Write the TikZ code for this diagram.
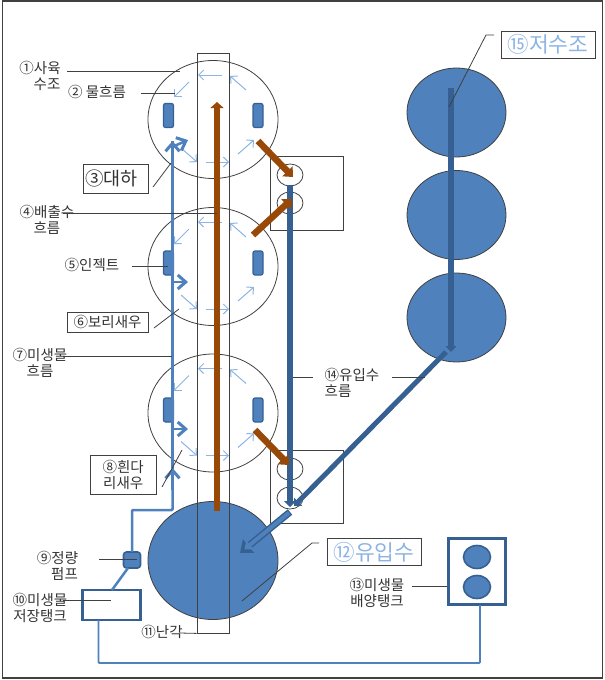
\documentclass[tikz,border=0pt]{standalone}
\usepackage{fontspec}
\setmainfont{Noto Sans CJK KR}
\usetikzlibrary{arrows.meta,shapes.geometric}
\definecolor{tankfill}{HTML}{4F81BD}
\definecolor{tankdark}{HTML}{366092}
\definecolor{flowlight}{HTML}{8DB4E2}
\definecolor{wastebrown}{HTML}{984807}
\definecolor{inkgray}{HTML}{404040}
\tikzset{
  tank/.style={draw=inkgray, ellipse, inner sep=0pt, minimum width=130pt, minimum height=118pt, line width=0.8pt},
  pool/.style={tank, fill=tankfill},
  reservoir/.style={pool, minimum width=99pt, minimum height=89pt},
  valve/.style={draw=inkgray, ellipse, inner sep=0pt, minimum width=26pt, minimum height=22pt, line width=0.8pt},
  seed/.style={draw=tankdark, fill=tankfill, ellipse, inner sep=0pt, minimum width=27pt, minimum height=23pt, line width=1.6pt},
  bar/.style={draw=tankdark, fill=tankfill, rounded corners=2pt, inner sep=0pt, minimum width=10pt, minimum height=24pt, line width=1.2pt},
  panel/.style={draw=inkgray, inner sep=0pt, line width=0.8pt},
  lbl/.style={font=\fontsize{14.5}{16}\selectfont, text=black!80, inner sep=0pt, align=center},
  lblbox/.style={lbl, draw=inkgray, line width=0.8pt, minimum height=20pt},
  bigbox/.style={lblbox, font=\fontsize{21.5}{22}\selectfont, text=flowlight, minimum width=94pt, minimum height=27pt},
  leader/.style={draw=inkgray, line width=0.8pt},
  smallflow/.style={draw=flowlight, line width=1pt, -{Straight Barb[length=5pt,width=10pt]}},
  microbe/.style={draw=tankfill, line width=2.5pt, rounded corners=1pt},
  feedline/.style={microbe, line width=1.8pt},
  chevron/.style={microbe, -{Straight Barb[length=8pt,width=14pt,line width=3pt]}},
  waste/.style={draw=wastebrown, line width=6.5pt},
  wastetip/.style={waste, -{Triangle[length=8pt,width=14pt]}},
  inflow/.style={draw=tankdark, line width=6pt},
}
\begin{document}
\begin{tikzpicture}[x=1pt, y=-1pt]
  \useasboundingbox (0,0) rectangle (605,680);
  \node[draw=inkgray, line width=1.3pt, minimum width=600pt, minimum height=677pt, inner sep=0pt] (frame) at (302.5,339.5) {};

  % pool, column and rearing tanks
  \node[pool] (inpool) at (213,560.5) {};
  \node[panel, minimum width=32.5pt, minimum height=580pt] (column) at (213.2,343) {};
  \node[tank] (tank1) at (213,119.5) {};
  \node[tank] (tank2) at (213,266.5) {};
  \node[tank] (tank3) at (213,413) {};

  % small water flow arrows, same in each tank
  \foreach \t in {tank1,tank2,tank3} {
    \foreach \ax/\ay/\bx/\by in {9/-44.5/-15/-44.5, 33/-29.5/17/-43.5, -24/-37.5/-39/-22.5,
                                 -32/28.5/-16/42.5, -7/42.5/16/42.5, 25/34.5/41/20.5} {
      \draw[smallflow] ([shift={(\ax,\ay)}]\t.center) -- ([shift={(\bx,\by)}]\t.center);
    }
  }

  % injector bars
  \node[bar] (bar1l) at (168.5,115.5) {};
  \node[bar] (bar1r) at (258,115.5) {};
  \node[bar] (bar2l) at (168.5,263) {};
  \node[bar] (bar2r) at (258,263) {};
  \node[bar] (bar3l) at (168.5,410) {};
  \node[bar] (bar3r) at (258,410) {};

  % drain boxes
  \node[panel, minimum width=73pt, minimum height=74pt] (drainup) at (306.5,193) {};
  \node[valve] (valve1) at (290,175) {};
  \node[valve] (valve2) at (290,203) {};
  \node[panel, minimum width=73pt, minimum height=73pt] (draindown) at (306.5,486.5) {};
  \node[valve] (valve3) at (290,469) {};
  \node[valve] (valve4) at (290,498) {};

  % reservoir
  \node[reservoir] (res1) at (456.5,112.5) {};
  \node[reservoir] (res2) at (456.5,215) {};
  \node[reservoir] (res3) at (456.5,317.5) {};

  % culture side
  \node[draw=tankdark, line width=2.2pt, fill=white, minimum width=58pt, minimum height=30pt, inner sep=0pt] (store) at (111.5,605) {};
  \node[draw=tankdark, fill=tankfill, line width=1.6pt, rounded corners=3pt, minimum width=17pt, minimum height=16pt, inner sep=0pt] (pump) at (132,560) {};
  \node[draw=tankdark, line width=2.5pt, minimum width=57pt, minimum height=66pt, inner sep=0pt] (culture) at (477,571.5) {};
  \node[seed] (seed1) at (477,557) {};
  \node[seed] (seed2) at (477,587) {};

  % microbe line
  \coordinate (pumpout) at (132,552);
  \coordinate (bendlow) at (132,510);
  \coordinate (bendup) at (172.5,510);
  \coordinate (midtip) at (172.5,468);
  \coordinate (toptip) at (172.5,141);
  \coordinate (storeout) at (112,590);
  \coordinate (pumpin) at (128,568);
  \draw[microbe] (storeout) -- (pumpin);
  \draw[microbe] (pumpout) -- (bendlow) -- (bendup) -- (midtip);
  \draw[microbe] (midtip) -- (toptip);
  \draw[chevron] (172.5,490) -- (midtip);
  \draw[chevron] (172.5,170) -- (toptip);
  \coordinate (inj1a) at (172,147);
  \coordinate (inj1b) at (188,140);
  \coordinate (inj2a) at (172,282);
  \coordinate (inj2b) at (188,282);
  \coordinate (inj3a) at (172,429);
  \coordinate (inj3b) at (188,429);
  \draw[chevron] (inj1a) -- (inj1b);
  \draw[chevron] (inj2a) -- (inj2b);
  \draw[chevron] (inj3a) -- (inj3b);
  \coordinate (feedout) at (98.5,620);
  \coordinate (feeddown) at (98.5,663);
  \coordinate (feedright) at (480,663);
  \coordinate (feedup) at (480,605);
  \draw[feedline] (feedout) -- (feeddown) -- (feedright) -- (feedup);

  % inflow lines
  \coordinate (restop) at (451,88);
  \coordinate (resend) at (451,352);
  \draw[inflow, -{Triangle[length=6pt,width=11pt]}] (restop) -- (resend);
  \coordinate (downtop) at (290,185);
  \coordinate (downend) at (290,507);
  \draw[inflow, line width=6.5pt, -{Triangle[length=6pt,width=12pt]}] (downtop) -- (downend);
  \coordinate (diagtop) at (446,352);
  \coordinate (diagend) at (294,506);
  \draw[inflow, line width=5pt, -{Triangle[length=6pt,width=11pt]}] (diagtop) -- (diagend);
  \coordinate (pourtop) at (290,512);
  \coordinate (pourend) at (240,553);
  \draw[inflow, line width=7pt, -{Triangle[length=11pt,width=17pt]}] (pourtop) -- (pourend);
  \draw[draw=tankfill, line width=4pt, -{Triangle[length=7pt,width=11pt]}] (289,512.8) -- (244.5,549.3);

  % waste lines
  \coordinate (waste0a) at (217,511);
  \coordinate (waste0b) at (217,102);
  \draw[waste, -{Triangle[length=6pt,width=13pt]}] (waste0a) -- (waste0b);
  \coordinate (waste1a) at (258,141);
  \coordinate (waste1b) at (293,177);
  \draw[wastetip] (waste1a) -- (waste1b);
  \coordinate (waste2a) at (253,235);
  \coordinate (waste2b) at (292,199);
  \draw[wastetip] (waste2a) -- (waste2b);
  \coordinate (waste3a) at (255,430);
  \coordinate (waste3b) at (289,465);
  \draw[wastetip] (waste3a) -- (waste3b);

  % labels
  \node[lbl] (lab1) at (40,76) {①사육\\\hspace*{14pt}수조};
  \node[lbl] (lab2) at (97,92) {② 물흐름};
  \node[lblbox, font=\fontsize{18.5}{20}\selectfont, minimum width=65pt, minimum height=29pt] (lab3) at (115.5,178.5) {\hspace*{-8pt}③대하};
  \node[lbl] (lab4) at (47,220) {④배출수\\흐름};
  \node[lbl] (lab5) at (92,265) {⑤인젝트};
  \node[lblbox, minimum width=81pt] (lab6) at (107.5,322) {⑥보리새우};
  \node[lbl] (lab7) at (40,363) {⑦미생물\\흐름};
  \node[lblbox, minimum width=66.5pt, minimum height=39pt] (lab8) at (123.2,474.5) {⑧흰다\\리새우};
  \node[lbl] (lab9) at (57.5,566) {⑨정량\\\hspace*{14pt}펌프};
  \node[lbl] (lab10) at (40,607.5) {⑩미생물\\저장탱크};
  \node[lbl] (lab11) at (162,632) {⑪난각};
  \node[bigbox] (lab12) at (374,552) {⑫유입수};
  \node[lbl] (lab13) at (377,592.5) {⑬미생물\\배양탱크};
  \node[lbl, align=left] (lab14) at (352,383) {⑭유입수\\흐름};
  \node[bigbox] (lab15) at (548,44.5) {⑮저수조};

  % leaders
  \coordinate (lead1a) at (67,71);
  \coordinate (lead1b) at (180,71);
  \draw[leader] (lead1a) -- (lead1b);
  \coordinate (lead2a) at (141,93);
  \coordinate (lead2b) at (175,93);
  \draw[leader] (lead2a) -- (lead2b);
  \coordinate (lead3a) at (153,187);
  \coordinate (lead3b) at (171,163);
  \draw[leader] (lead3a) -- (lead3b);
  \coordinate (lead4a) at (63,213);
  \coordinate (lead4b) at (217,213);
  \draw[leader] (lead4a) -- (lead4b);
  \coordinate (lead5a) at (132,266);
  \coordinate (lead5b) at (168,266);
  \draw[leader] (lead5a) -- (lead5b);
  \coordinate (lead6a) at (154,328);
  \coordinate (lead6b) at (179,309);
  \draw[leader] (lead6a) -- (lead6b);
  \coordinate (lead7a) at (63,356);
  \coordinate (lead7b) at (172,356);
  \draw[leader] (lead7a) -- (lead7b);
  \coordinate (lead8a) at (162,487);
  \coordinate (lead8b) at (182,450);
  \draw[leader] (lead8a) -- (lead8b);
  \coordinate (lead9a) at (99,559);
  \coordinate (lead9b) at (137,559);
  \draw[leader] (lead9a) -- (lead9b);
  \coordinate (lead10a) at (63,600);
  \coordinate (lead10b) at (111,600);
  \draw[leader] (lead10a) -- (lead10b);
  \coordinate (lead11a) at (180,633);
  \draw[leader] (lead11a) -- (column.south west);
  \coordinate (lead12a) at (242,601);
  \coordinate (lead12b) at (312,543);
  \coordinate (lead12c) at (319,543);
  \draw[leader] (lead12a) -- (lead12b) -- (lead12c);
  \coordinate (lead13a) at (412,586);
  \draw[leader] (lead13a) -- (culture.west |- lead13a);
  \coordinate (lead14a) at (293,377);
  \coordinate (lead14b) at (313,377);
  \coordinate (lead14c) at (392,377);
  \coordinate (lead14d) at (425,377);
  \draw[leader] (lead14a) -- (lead14b);
  \draw[leader] (lead14c) -- (lead14d);
  \coordinate (lead15a) at (449,107);
  \coordinate (lead15b) at (486,35);
  \coordinate (lead15c) at (494,35);
  \draw[leader] (lead15a) -- (lead15b) -- (lead15c);
\end{tikzpicture}
\end{document}
